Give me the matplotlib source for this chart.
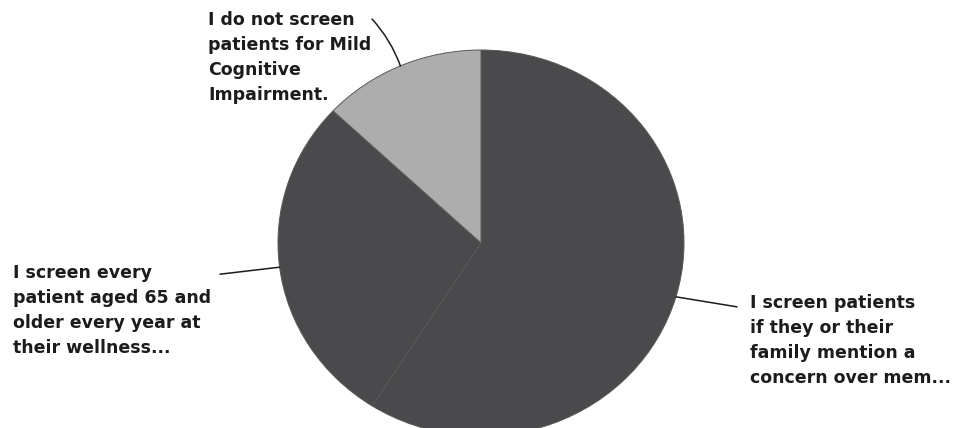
import numpy as np
import matplotlib
matplotlib.use("Agg")
import matplotlib.pyplot as plt

# Survey responses (share of respondents, %)
categories = [
    "I screen patients\nif they or their\nfamily mention a\nconcern over mem...",
    "I screen every\npatient aged 65 and\nolder every year at\ntheir wellness...",
    "I do not screen\npatients for Mild\nCognitive\nImpairment.",
]
shares = [59, 28, 13]
colors = ["#4a4a4c", "#4a4a4c", "#adadad"]

W, H = 954, 428
fig = plt.figure(figsize=(W / 100, H / 100), dpi=100)
fig.patch.set_facecolor("white")

# pie geometry in pixels (slightly oval, as printed)
cx, cy = 481, 243
rx, ry = 203, 193

ax = fig.add_axes([(cx - rx) / W, (H - cy - ry) / H, 2 * rx / W, 2 * ry / H])
wedges, _ = ax.pie(
    shares,
    colors=colors,
    startangle=90,
    counterclock=False,
    radius=1,
    wedgeprops=dict(edgecolor="#58585a", linewidth=0.7),
)
ax.set_xlim(-1, 1)
ax.set_ylim(-1, 1)
ax.set_aspect("auto")
ax.axis("off")

# overlay in pixel coordinates for labels and leader lines
ov = fig.add_axes([0, 0, 1, 1], zorder=5)
ov.set_xlim(0, W)
ov.set_ylim(H, 0)
ov.axis("off")
ov.patch.set_alpha(0)

def edge_point(w):
    a = np.deg2rad((w.theta1 + w.theta2) / 2)
    return cx + rx * np.cos(a), cy - ry * np.sin(a)

txt_kw = dict(fontsize=12.5, fontweight="bold", family=["DejaVu Sans"],
              color="#1c1c1c", linespacing=1.5, va="top", ha="left")
line_kw = dict(color="#1c1c1c", lw=1.1)

# right label
ex, ey = edge_point(wedges[0])
ov.text(750, 294, categories[0], **txt_kw)
ov.annotate("", xy=(ex, ey), xytext=(737, ey + 10),
            arrowprops=dict(arrowstyle="-", shrinkA=0, shrinkB=0, **line_kw))

# left label
ex, ey = edge_point(wedges[1])
ov.text(13, 264, categories[1], **txt_kw)
ov.annotate("", xy=(ex, ey), xytext=(220, ey + 7),
            arrowprops=dict(arrowstyle="-", shrinkA=0, shrinkB=0, **line_kw))

# top label
ex, ey = edge_point(wedges[2])
ov.text(208, 11, categories[2], **txt_kw)
ov.annotate("", xy=(ex, ey), xytext=(372, 19),
            arrowprops=dict(arrowstyle="-", shrinkA=0, shrinkB=0,
                            connectionstyle="arc3,rad=-0.1", **line_kw))

fig.savefig("out.png", dpi=100, facecolor="white")
